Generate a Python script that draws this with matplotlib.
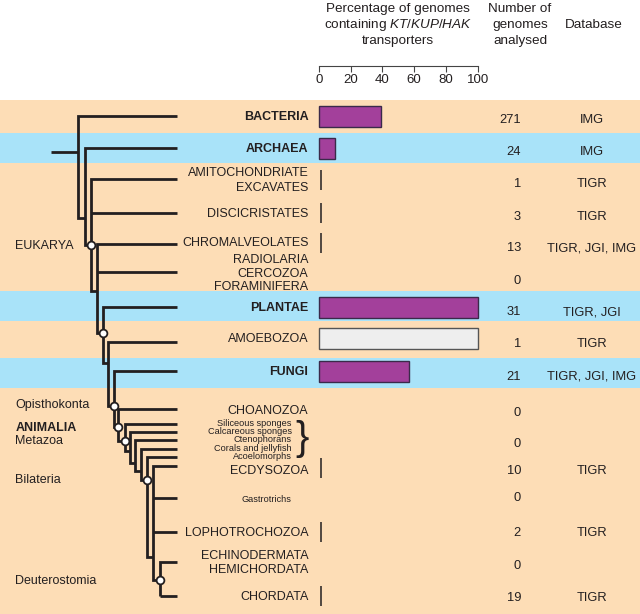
import matplotlib
matplotlib.use("Agg")
import matplotlib.pyplot as plt

plt.rcParams['font.family'] = ['Liberation Sans', 'DejaVu Sans']
plt.rcParams['mathtext.fontset'] = 'custom'
plt.rcParams['mathtext.rm'] = 'Liberation Sans'
plt.rcParams['mathtext.it'] = 'Liberation Sans:italic'

# ---------------- data ----------------
groups = ['BACTERIA', 'ARCHAEA', 'AMITOCHONDRIATE\nEXCAVATES', 'DISCICRISTATES',
          'CHROMALVEOLATES', 'RADIOLARIA\nCERCOZOA\nFORAMINIFERA', 'PLANTAE',
          'AMOEBOZOA', 'FUNGI', 'CHOANOZOA',
          'Siliceous sponges\nCalcareous sponges\nCtenophorans\nCorals and jellyfish\nAcoelomorphs',
          'ECDYSOZOA', 'Gastrotrichs', 'LOPHOTROCHOZOA',
          'ECHINODERMATA\nHEMICHORDATA', 'CHORDATA']
bold_groups = ['BACTERIA', 'ARCHAEA', 'PLANTAE', 'FUNGI']
small_groups = ['Siliceous sponges\nCalcareous sponges\nCtenophorans\nCorals and jellyfish\nAcoelomorphs',
                'Gastrotrichs']
percent = [39, 10, 0, 0, 0, None, 100, 100, 57, None, None, 0, None, 0, None, 0]
bar_kind = ['fill', 'fill', 'fill', 'fill', 'fill', None, 'fill', 'open', 'fill',
            None, None, 'fill', None, 'fill', None, 'fill']
genomes = [271, 24, 1, 3, 13, 0, 31, 1, 21, 0, 0, 10, 0, 2, 0, 19]
database = ['IMG', 'IMG', 'TIGR', 'TIGR', 'TIGR, JGI, IMG', '', 'TIGR, JGI', 'TIGR',
            'TIGR, JGI, IMG', '', '', 'TIGR', '', 'TIGR', '', 'TIGR']
pct_ticks = [0, 20, 40, 60, 80, 100]
side_labels = ['EUKARYA', 'Opisthokonta', 'ANIMALIA', 'Metazoa', 'Bilateria', 'Deuterostomia']

# ---------------- layout (pixels) ----------------
W, H = 640, 614
row_y = [116, 148, 179.5, 213, 242.5, 272.5, 307.5, 338.5, 371, 409.5, 439, 468, 498, 531.5, 562, 596]
num_y = [118.3, 150.7, 182.5, 215, 246.5, 279, 310.7, 342.3, 375, 411.7, 442.7, 469.3, 496.7, 531.7, 564, 596]
label_line_gap = [15.3, 15.3, 15.3, 15.3, 15.3, 13.5, 15, 15, 15, 15, 8.35, 15, 15, 15, 14, 15]
label_y = [116, 148, 179.3, 213, 242, 272.5, 307, 337.5, 370.7, 409.3, 439, 469.4, 498.3, 531.7, 562, 596]
side_y = [245, 404, 426.7, 439.5, 478.5, 579.5]

peach = '#FDDDB6'
blue = '#A9E3F9'
bands = [(100, 132.5, peach), (132.5, 163, blue), (163, 291, peach), (291, 321, blue),
         (321, 357.5, peach), (357.5, 388, blue), (388, 614, peach)]

tree_x = [77.5, 85, 90.5, 96.7, 103, 108.3, 113.5, 118.3, 124.5, 129.5, 135, 140.5, 146.7, 153.3, 160]
clade_leaves = [[116], [148], [179, 213.3], [243.5, 272.3], [307], [342], [371], [409], [424.3],
                [432.3], [440.3], [448.7], [456.7], [466, 498.3, 532], [562, 595.5]]
clade_bottom = [218, 245, 291, 333, 363, 406, 426.7, 440.5, 451, 463, 471, 480, 557, 580, None]
node_circle = [False, True, False, True, False, True, True, True, False, False, False, True,
               False, True, False]
leaf_end = 177
line_col = '#231F20'

fig = plt.figure(figsize=(W / 100, H / 100), dpi=100)
ax = fig.add_axes([0, 0, 1, 1])
ax.set_xlim(0, W)
ax.set_ylim(H, 0)
ax.axis('off')

for y0, y1, c in bands:
    ax.axhspan(y0, y1, color=c, lw=0, zorder=0)


def put(x, y, s, size, ha='left', **kw):
    px = size * 100 / 72
    ax.text(x, y + 0.358 * px, s, fontsize=size, ha=ha, va='baseline', color='#231F20', **kw)


# tree
lw = 2.0
ax.plot([51, tree_x[0]], [152, 152], color=line_col, lw=lw, solid_capstyle='butt', zorder=3)
for i, x in enumerate(tree_x):
    leaves = clade_leaves[i]
    top = leaves[0]
    bot = clade_bottom[i] if clade_bottom[i] is not None else leaves[-1]
    xs = [leaf_end, x, x]
    ys = [top, top, bot]
    if clade_bottom[i] is not None:
        xs.append(tree_x[i + 1])
        ys.append(bot)
    ax.plot(xs, ys, color=line_col, lw=lw, solid_joinstyle='miter', solid_capstyle='butt', zorder=3)
    for ly in leaves[1:]:
        ax.plot([x, leaf_end], [ly, ly], color=line_col, lw=lw, solid_capstyle='butt', zorder=3)
    if clade_bottom[i] is not None and node_circle[i]:
        ax.plot([tree_x[i + 1]], [bot], marker='o', ms=5.6, mfc='white', mec=line_col, mew=1.3, zorder=5)

# leaf labels
for i, g in enumerate(groups):
    lines = g.split('\n')
    small = g in small_groups
    size = 6.6 if small else 9
    xr = 291.5 if small else 308.5
    gap = label_line_gap[i]
    n = len(lines)
    for k, ln in enumerate(lines):
        yy = label_y[i] + (k - (n - 1) / 2) * gap
        put(xr, yy, ln, size, ha='right', weight='bold' if g in bold_groups else 'normal')

# brace
ax.text(302, 438.5, '}', fontsize=29, ha='center', va='center', color=line_col)

# side labels
for s, y in zip(side_labels, side_y):
    put(15.5, y, s, 9, weight='bold' if s == 'ANIMALIA' else 'normal')

# numbers and databases
for i in range(len(groups)):
    put(521, num_y[i], str(genomes[i]), 9.3, ha='right')
    if database[i]:
        put(591.5, num_y[i], database[i], 9.3, ha='center')

# headers
hs = 9.7
put(398, 7.3, 'Percentage of genomes', hs, ha='center')
put(398, 23.3, r'containing $\mathit{KT/KUP/HAK}$', hs, ha='center')
put(398, 39.3, 'transporters', hs, ha='center')
put(520, 7.3, 'Number of', hs, ha='center')
put(520, 23.3, 'genomes', hs, ha='center')
put(520, 39.3, 'analysed', hs, ha='center')
put(593.5, 23.3, 'Database', hs, ha='center')

# bar axes
x0, x100 = 319.0, 477.7
bx = fig.add_axes([x0 / W, 0, (x100 - x0) / W, 1])
bx.set_xlim(0, 100)
bx.set_ylim(H, 0)
bx.patch.set_alpha(0)
for sp in ['top', 'left', 'right']:
    bx.spines[sp].set_visible(False)
bx.spines['bottom'].set_position(('data', 65.7))
bx.spines['bottom'].set_color('#444444')
bx.spines['bottom'].set_linewidth(0.8)
bx.set_xticks(pct_ticks)
bx.set_xticklabels([str(t) for t in pct_ticks])
bx.tick_params(axis='x', direction='out', length=4.3, width=0.8, color='#444444',
               pad=2.0, labelsize=9.5, labelcolor='#231F20')
bx.set_yticks([])

for i, p in enumerate(percent):
    if p is None:
        continue
    if bar_kind[i] == 'open':
        bars = bx.barh(row_y[i], p, height=21, left=0, color='#EEEEEE', edgecolor='#555555', lw=1.0, zorder=3)
    elif p == 0:
        bars = bx.barh(row_y[i], p, height=20, left=1.1, color='none', edgecolor=line_col, lw=1.1, zorder=3)
    else:
        bars = bx.barh(row_y[i], p, height=21, left=0, color='#A3409B', edgecolor='#3A2A4A', lw=1.0, zorder=3)
    for b in bars:
        b.set_clip_on(False)

fig.savefig('out.png', dpi=100)
